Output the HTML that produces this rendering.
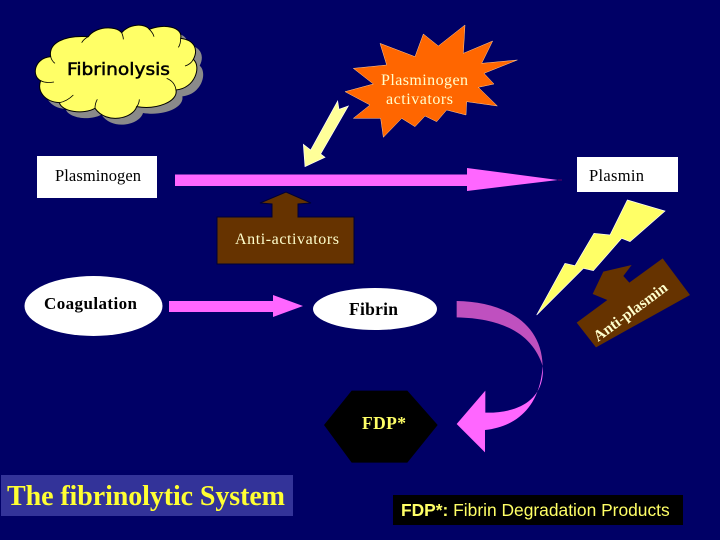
<!DOCTYPE html>
<html><head><meta charset="utf-8"><style>
html,body{margin:0;padding:0;background:#000066}
svg{display:block}
text{font-family:"Liberation Serif",serif}
</style></head><body>
<svg width="720" height="540" viewBox="0 0 720 540" xmlns="http://www.w3.org/2000/svg">
<rect width="720" height="540" fill="#000066"/>
<defs>
<path id="c" d="M92,140 C85,100 130,75 205,80 C225,50 285,45 305,68 C330,40 375,40 388,58 C430,40 490,50 482,85 C525,90 535,120 520,148 C545,170 525,235 468,240 C475,275 410,300 350,290 C340,325 260,345 225,295 C190,315 125,305 118,278 C75,275 50,245 62,212 C35,200 40,145 92,140 Z"/>
</defs>
<g transform="translate(20,10) scale(.33333)">
<use href="#c" transform="translate(19,19)" fill="#8a8a8a"/>
<use href="#c" fill="#ffff66" stroke="#000" stroke-width="3"/>
<path d="M62,212 C75,220 90,218 102,216 M118,278 C135,275 150,265 160,255 M225,295 C225,285 228,275 232,268 M350,290 C355,285 358,275 358,268 M468,240 C466,225 458,212 440,205 M520,148 C515,158 505,165 495,168 M482,85 C482,95 480,105 475,112 M388,58 C395,65 400,72 402,80 M305,68 C308,75 310,80 310,88 M205,80 C195,85 190,90 185,98 M92,140 C94,148 98,155 105,160" fill="none" stroke="#000" stroke-width="2.5"/>
</g>
<text x="67" y="75" font-size="16.5" textLength="103" lengthAdjust="spacingAndGlyphs" style="font-family:'DejaVu Sans',sans-serif" stroke="#000" stroke-width=".5">Fibrinolysis</text>

<g transform="translate(290,10) scale(.33333)">
<polygon points="525,45 520,130 608,93 575,160 682,150 582,190 612,222 565,232 622,288 530,275 528,315 470,300 440,335 405,318 375,350 335,325 280,382 272,325 190,325 240,285 165,245 250,222 190,175 290,165 270,100 375,140 400,72 445,108" fill="#ff6600" stroke="#ffcc99" stroke-width="1.5"/>
<polygon points="143,273 147,298 175,288 92,432 105,442 45,470 40,403 62,420" fill="#ffff99" stroke="#fff" stroke-width="2"/>
</g>
<text x="381" y="85" font-size="16" fill="#ffffcc" textLength="87">Plasminogen</text>
<text x="386" y="104" font-size="16" fill="#ffffcc" textLength="67">activators</text>

<rect x="37" y="156" width="120" height="42" fill="#fff"/>
<text x="55" y="181" font-size="16.500" textLength="86">Plasminogen</text>
<rect x="577" y="157" width="101" height="35" fill="#fff"/>
<text x="589" y="181" font-size="16.500" textLength="55">Plasmin</text>

<polygon points="175,174.500 467,174.500 467,168 558,180 467,191 467,186 175,186" fill="#ff66ff"/>
<rect x="558" y="179" width="4" height="2" fill="#330066"/>

<polygon points="217,217 272,217 272,204 260,203 286,192 311,203 298,204 298,217 354,217 354,264 217,264" fill="#663300" stroke="#000033" stroke-width="1"/>
<text x="235" y="244" font-size="16" fill="#ffffcc" textLength="104">Anti-activators</text>

<ellipse cx="93.500" cy="306" rx="69" ry="30" fill="#fff"/>
<text x="44" y="309" font-size="17" font-weight="bold" textLength="93">Coagulation</text>
<polygon points="169,301 273,301 273,295 303,306 273,317 273,312 169,312" fill="#ff66ff"/>

<ellipse cx="375" cy="309" rx="62" ry="21" fill="#fff"/>
<text x="349" y="315" font-size="17.500" font-weight="bold" textLength="49">Fibrin</text>

<g transform="translate(520,150) scale(.33333)">
<polygon points="322,150 435,183 330,275 305,265 220,362 190,355 50,495 135,340 165,347 222,250 270,255" fill="#ffff66" stroke="#fff" stroke-width="2"/>
<polygon points="428,325 510,435 228,592 170,518 262,450 218,432 250,365 335,345 310,378 328,398" fill="#663300"/>
</g>
<text transform="translate(598,342) rotate(-36.500)" font-size="15.500" font-weight="bold" fill="#ffffcc" textLength="88">Anti-plasmin</text>

<g transform="translate(300,280) scale(.33333)">
<path d="M470,63 C600,65 725,120 728,258 C700,170 620,115 470,112 Z" fill="#bf50bf"/>
<path d="M728,258 C735,340 680,400 556,398 L556,332 L470,432 L555,517 L555,450 C650,440 720,380 728,258 Z" fill="#ff66ff"/>
<polygon points="155,332 322,332 413,435 322,548 155,548 72,435" fill="#000"/>
</g>
<text x="362" y="429" font-size="17.500" font-weight="bold" fill="#ffff66" textLength="44">FDP*</text>

<rect x="1" y="475" width="292" height="41" fill="#333399"/>
<text x="7" y="505" font-size="28" font-weight="bold" fill="#ffff33" textLength="278">The fibrinolytic System</text>

<rect x="393" y="495" width="290" height="30" fill="#000"/>
<text x="401" y="516" font-size="17.400" style="font-family:'Liberation Sans',sans-serif" fill="#ffff66"><tspan font-weight="bold">FDP*:</tspan> Fibrin Degradation Products</text>
</svg>
</body></html>
